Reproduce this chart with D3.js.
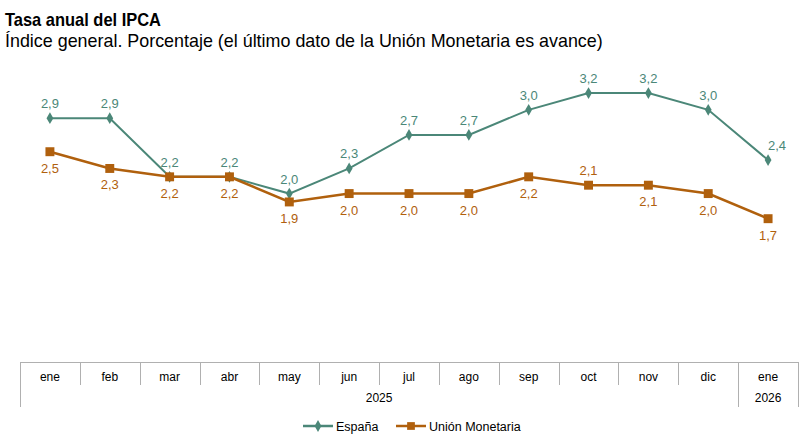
<!DOCTYPE html>
<html>
<head>
<meta charset="utf-8">
<script src="https://cdn.jsdelivr.net/npm/d3@7/dist/d3.min.js"></script>
<style>
body { margin: 0; background: #fff; font-family: "Liberation Sans", Arial, sans-serif; }
.title { font-weight: bold; font-size: 18.5px; fill: #000; }
.subtitle { font-size: 17.9px; fill: #000; }
.grid { stroke: #b0b0b0; stroke-width: 1; }
.cat { font-size: 12px; fill: #000; }
.leg { font-size: 12.5px; fill: #000; }
.lbl { font-size: 13px; }
</style>
</head>
<body>
<div id="chart"></div>
<script>
// data
var months = ["ene","feb","mar","abr","may","jun","jul","ago","sep","oct","nov","dic","ene"];
var years = [{ year: "2025", from: 0, to: 11 }, { year: "2026", from: 12, to: 12 }];
var espana = [2.9, 2.9, 2.2, 2.2, 2.0, 2.3, 2.7, 2.7, 3.0, 3.2, 3.2, 3.0, 2.4];
var union = [2.5, 2.3, 2.2, 2.2, 1.9, 2.0, 2.0, 2.0, 2.2, 2.1, 2.1, 2.0, 1.7];
// where the value labels go (above / below / right)
var espanaPos = ["a","a","a","a","a","a","a","a","a","a","a","a","r"];
var unionPos = ["b","b","b","b","b","b","b","b","b","a","b","b","b"];

var W = 803, H = 436;
var colEs = "#4b8778", colUm = "#b0600d";

var svg = d3.select("#chart").append("svg")
  .attr("width", W).attr("height", H);

// title is set in a narrow face in the original, squeeze it to the same width
svg.append("text").attr("class", "title").attr("x", 5).attr("y", 26)
  .attr("textLength", 156).attr("lengthAdjust", "spacingAndGlyphs")
  .text("Tasa anual del IPCA");
svg.append("text").attr("class", "subtitle").attr("x", 5).attr("y", 47)
  .text("Índice general. Porcentaje (el último dato de la Unión Monetaria es avance)");

var x = d3.scaleBand().domain(d3.range(months.length)).range([20, 798]);
var y = d3.scaleLinear().domain([0, 3.5]).range([361, 68]);
var cx = function(i) { return x(i) + x.bandwidth() / 2; };

// category table
var tblTop = 362, row1 = 385, row2 = 407;
svg.append("line").attr("class", "grid").attr("x1", 20).attr("x2", 798).attr("y1", tblTop + 0.5).attr("y2", tblTop + 0.5);
var bounds = d3.range(months.length + 1);
var bx = function(i) { return Math.round(i < months.length ? x(i) : x.range()[1]) + 0.5; };
svg.selectAll("line.sep").data(bounds).enter().append("line")
  .attr("class", "grid")
  .attr("x1", bx).attr("x2", bx)
  .attr("y1", tblTop)
  .attr("y2", function(i) {
    var yb = years.some(function(yy) { return yy.from === i; }) || i === months.length;
    return yb ? row2 : row1;
  });
svg.selectAll("text.cat").data(months).enter().append("text")
  .attr("class", "cat").attr("text-anchor", "middle")
  .attr("x", function(d, i) { return cx(i); }).attr("y", 381).text(function(d) { return d; });
svg.selectAll("text.yr").data(years).enter().append("text")
  .attr("class", "cat").attr("text-anchor", "middle")
  .attr("x", function(d) { return (x(d.from) + x(d.to) + x.bandwidth()) / 2; })
  .attr("y", 402).text(function(d) { return d.year; });

var line = d3.line().x(function(d, i) { return cx(i); }).y(function(d) { return y(d); });
var fmt = function(v) { return d3.format(".1f")(v).replace(".", ","); };

function drawSeries(vals, pos, col, sym, size, width) {
  svg.append("path").datum(vals).attr("fill", "none").attr("stroke", col)
    .attr("stroke-width", width).attr("d", line);
  svg.selectAll(null).data(vals).enter().append("path")
    .attr("transform", function(d, i) { return "translate(" + cx(i) + "," + y(d) + ")"; })
    .attr("d", d3.symbol().type(sym).size(size)).attr("fill", col);
  svg.selectAll(null).data(vals).enter().append("text")
    .attr("class", "lbl").attr("fill", col).attr("text-anchor", "middle")
    .attr("x", function(d, i) { return cx(i) + (pos[i] === "r" ? 9 : 0); })
    .attr("y", function(d, i) { return y(d) + (pos[i] === "b" ? 21 : -10); })
    .text(fmt);
}

drawSeries(espana, espanaPos, colEs, d3.symbolDiamond, 40, 2);
drawSeries(union, unionPos, colUm, d3.symbolSquare, 80, 2.5);

// legend
var lg = svg.append("g").attr("transform", "translate(0,426)");
[{ name: "España", col: colEs, sym: d3.symbolDiamond, size: 40, x0: 303 },
 { name: "Unión Monetaria", col: colUm, sym: d3.symbolSquare, size: 60, x0: 396 }].forEach(function(s) {
  lg.append("line").attr("x1", s.x0).attr("x2", s.x0 + 30).attr("stroke", s.col).attr("stroke-width", 2.5);
  lg.append("path").attr("transform", "translate(" + (s.x0 + 15) + ",0)")
    .attr("d", d3.symbol().type(s.sym).size(s.size)).attr("fill", s.col);
  lg.append("text").attr("class", "leg").attr("x", s.x0 + 33).attr("y", 4.5).text(s.name);
});
</script>
</body>
</html>
